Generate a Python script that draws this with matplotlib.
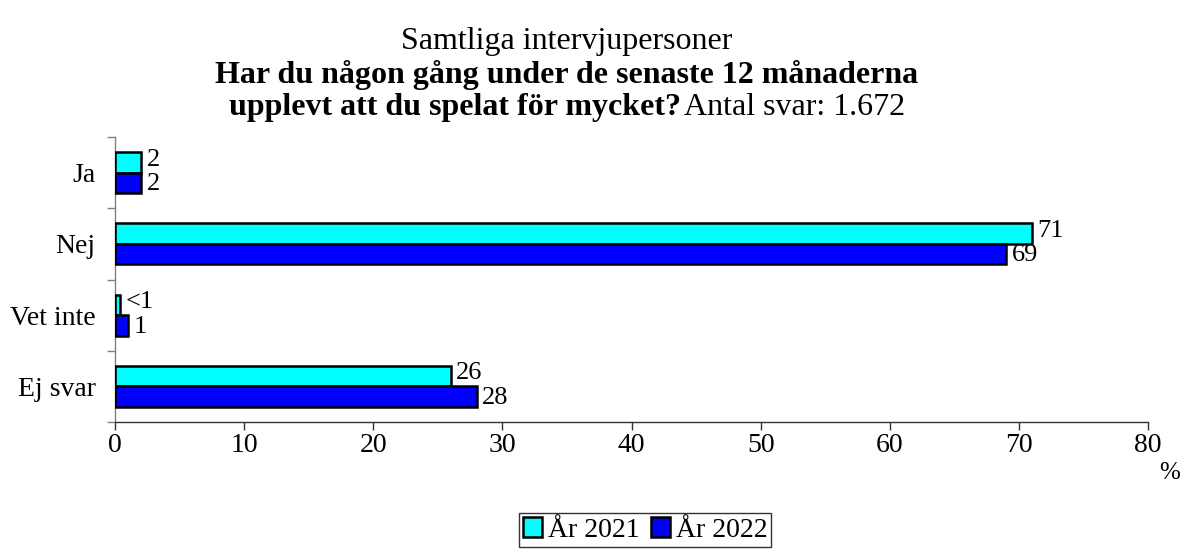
import matplotlib
matplotlib.use("Agg")
import matplotlib.pyplot as plt
from matplotlib.patches import Patch
import numpy as np

plt.rcParams['font.family'] = ['Liberation Serif', 'DejaVu Serif']

categories = ["Ja", "Nej", "Vet inte", "Ej svar"]
series_names = ["År 2021", "År 2022"]
values_2021 = [2, 71, 0.4, 26]
values_2022 = [2, 69, 1, 28]
labels_2021 = ["2", "71", "<1", "26"]
labels_2022 = ["2", "69", "1", "28"]
xticks = [0, 10, 20, 30, 40, 50, 60, 70, 80]

title_line1 = "Samtliga intervjupersoner"
title_line2 = "Har du någon gång under de senaste 12 månaderna"
title_line3_bold = "upplevt att du spelat för mycket?"
title_line3_plain = "Antal svar: 1.672"

colors = ["#00FFFF", "#0000FF"]

W, H = 1181, 549
fig = plt.figure(figsize=(W / 100, H / 100), dpi=100)
ax = fig.add_axes([115 / W, 1 - 422 / H, (1148 - 115) / W, (422 - 137) / H])

y = np.arange(len(categories))
h = 0.287
bars1 = ax.barh(y - h / 2, values_2021, height=h, color=colors[0],
                edgecolor="black", linewidth=1.8, label=series_names[0], zorder=3)
bars2 = ax.barh(y + h / 2, values_2022, height=h, color=colors[1],
                edgecolor="black", linewidth=1.8, label=series_names[1], zorder=3)

# value labels to the right of each bar; the pair is nudged apart slightly
for bars, labs, dy in ((bars1, labels_2021, 2), (bars2, labels_2022, -1)):
    for b, lab in zip(bars, labs):
        ax.annotate(lab, xy=(b.get_width(), b.get_y() + b.get_height() / 2),
                    xytext=(4, dy), textcoords="offset points",
                    ha="left", va="center", fontsize=19)

ax.set_xlim(0, 80)
ax.set_ylim(len(categories) - 0.5, -0.5)

ax.set_xticks(xticks)
ax.set_xticklabels([str(t) for t in xticks], fontsize=20)
ax.tick_params(axis="x", direction="out", length=6, width=1.0, color="#333333", pad=2)

ax.set_yticks(y)
ax.set_yticklabels(categories, fontsize=20)
ax.tick_params(axis="y", which="major", length=0, pad=14)
ax.set_yticks(np.arange(len(categories) + 1) - 0.5, minor=True)
ax.tick_params(axis="y", which="minor", direction="out", length=6, width=1.0, color="#808080")

for s in ("top", "right"):
    ax.spines[s].set_visible(False)
ax.spines["left"].set_color("#808080")
ax.spines["left"].set_linewidth(1.0)
ax.spines["bottom"].set_color("#333333")
ax.spines["bottom"].set_linewidth(1.0)

fig.text(1170 / W, 1 - 473 / H, "%", ha="center", va="center", fontsize=18)

# Title: three centred lines, the last one mixing bold and regular text
cx = 567 / W
fs_title = 23
fig.text(cx, 1 - 42 / H, title_line1, ha="center", va="center", fontsize=fs_title)
fig.text(cx, 1 - 75 / H, title_line2, ha="center", va="center", fontsize=fs_title,
         fontweight="bold")
renderer = fig.canvas.get_renderer()
tb = fig.text(0, 1 - 107 / H, title_line3_bold, ha="left", va="center",
              fontsize=fs_title, fontweight="bold")
tp = fig.text(0, 1 - 107 / H, title_line3_plain, ha="left", va="center",
              fontsize=fs_title)
wb = tb.get_window_extent(renderer).width
wp = tp.get_window_extent(renderer).width
gap = 3
x0 = cx * W - (wb + gap + wp) / 2
tb.set_x(x0 / W)
tp.set_x((x0 + wb + gap) / W)

handles = [Patch(facecolor=colors[0], edgecolor="black", linewidth=1.8),
           Patch(facecolor=colors[1], edgecolor="black", linewidth=1.8)]
leg = fig.legend(handles, series_names, loc="upper center",
                 bbox_to_anchor=(645 / W, 1 - 513 / H), ncol=2, fontsize=20,
                 frameon=True, fancybox=False, edgecolor="black",
                 handlelength=0.7, handleheight=0.7, handletextpad=0.2,
                 columnspacing=0.4, borderpad=0.15, borderaxespad=0)
leg.get_frame().set_linewidth(1.0)

fig.savefig("out.png", dpi=100)
